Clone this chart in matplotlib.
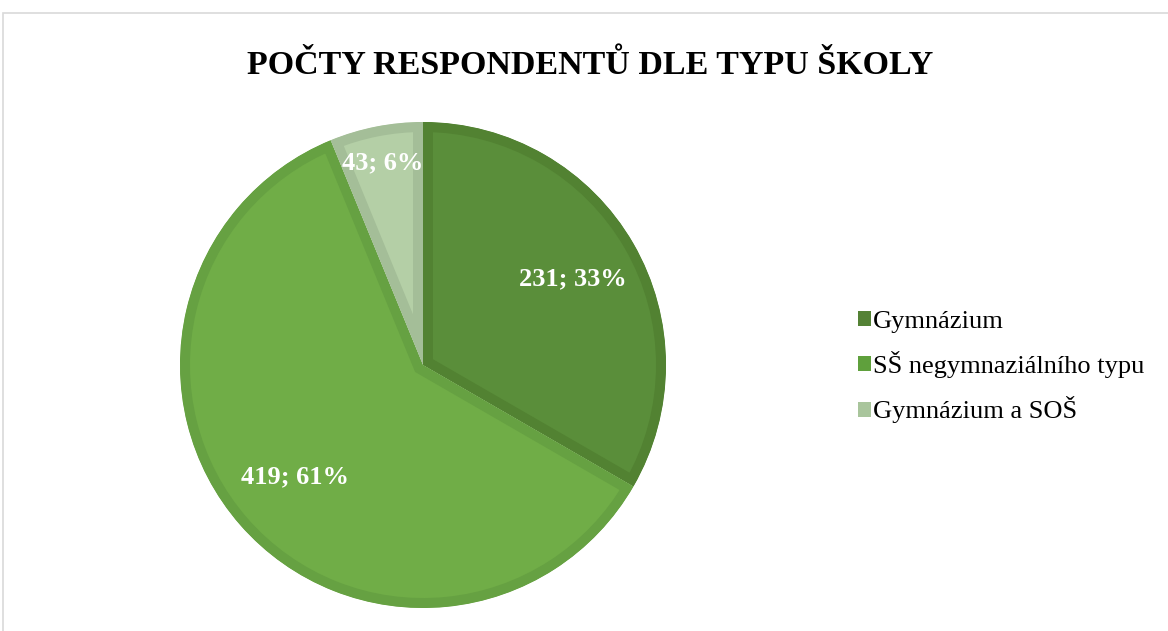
import numpy as np
import matplotlib.pyplot as plt
from matplotlib.patches import Rectangle, Patch

# data
categories = ['Gymnázium', 'SŠ negymnaziálního typu', 'Gymnázium a SOŠ']
counts = [231, 419, 43]
percents = [33, 61, 6]
title = 'POČTY RESPONDENTŮ DLE TYPU ŠKOLY'

fill_colors = ['#5A8E3A', '#70AD47', '#B4CFA6']
edge_colors = ['#528232', '#66A142', '#A4BE98']
legend_colors = ['#548235', '#5FA03C', '#A9C59C']
label_dist = [0.71, 0.70, 0.85]

plt.rcParams['font.family'] = ['Liberation Serif', 'DejaVu Serif']

fig = plt.figure(figsize=(11.68, 6.31), dpi=100)
fig.patches.append(Rectangle((3 / 1168, -0.05), 1.2, 1 - 13 / 631 + 0.05,
                             transform=fig.transFigure, fill=False,
                             edgecolor='#D9D9D9', lw=1.2))

ax = fig.add_axes([(423 - 243) / 1168, 23 / 631, 486 / 1168, 486 / 631])
wedges, _ = ax.pie(counts, colors=fill_colors, startangle=90, counterclock=False,
                   radius=1.0, wedgeprops=dict(linewidth=0))

# inner border on each wedge (stroke clipped to the wedge itself)
bw = 20 * 72 / 100
for w, ec in zip(wedges, edge_colors):
    w.set_edgecolor(ec)
    w.set_linewidth(bw)
    w.set_clip_on(True)
    w.set_clip_path(w)

for w, n, p, d in zip(wedges, counts, percents, label_dist):
    ang = np.deg2rad((w.theta1 + w.theta2) / 2)
    ax.text(d * np.cos(ang), d * np.sin(ang), f'{n}; {p}%', ha='center', va='center',
            color='white', fontsize=19, fontweight='bold')

ax.set_xlim(-1, 1)
ax.set_ylim(-1, 1)
ax.set_aspect('equal')
ax.axis('off')

fig.text(590 / 1168, 1 - 66 / 631, title, ha='center', va='center',
         fontsize=24.5, fontweight='bold')

handles = [Patch(facecolor=c, edgecolor='none') for c in legend_colors]
fig.legend(handles, categories, loc='center left', bbox_to_anchor=(845 / 1168, 1 - 367 / 631),
           frameon=False, fontsize=19, handlelength=0.5, handleheight=0.5,
           handletextpad=0.05, labelspacing=0.7, borderpad=0)

fig.savefig('out.png', dpi=100)
